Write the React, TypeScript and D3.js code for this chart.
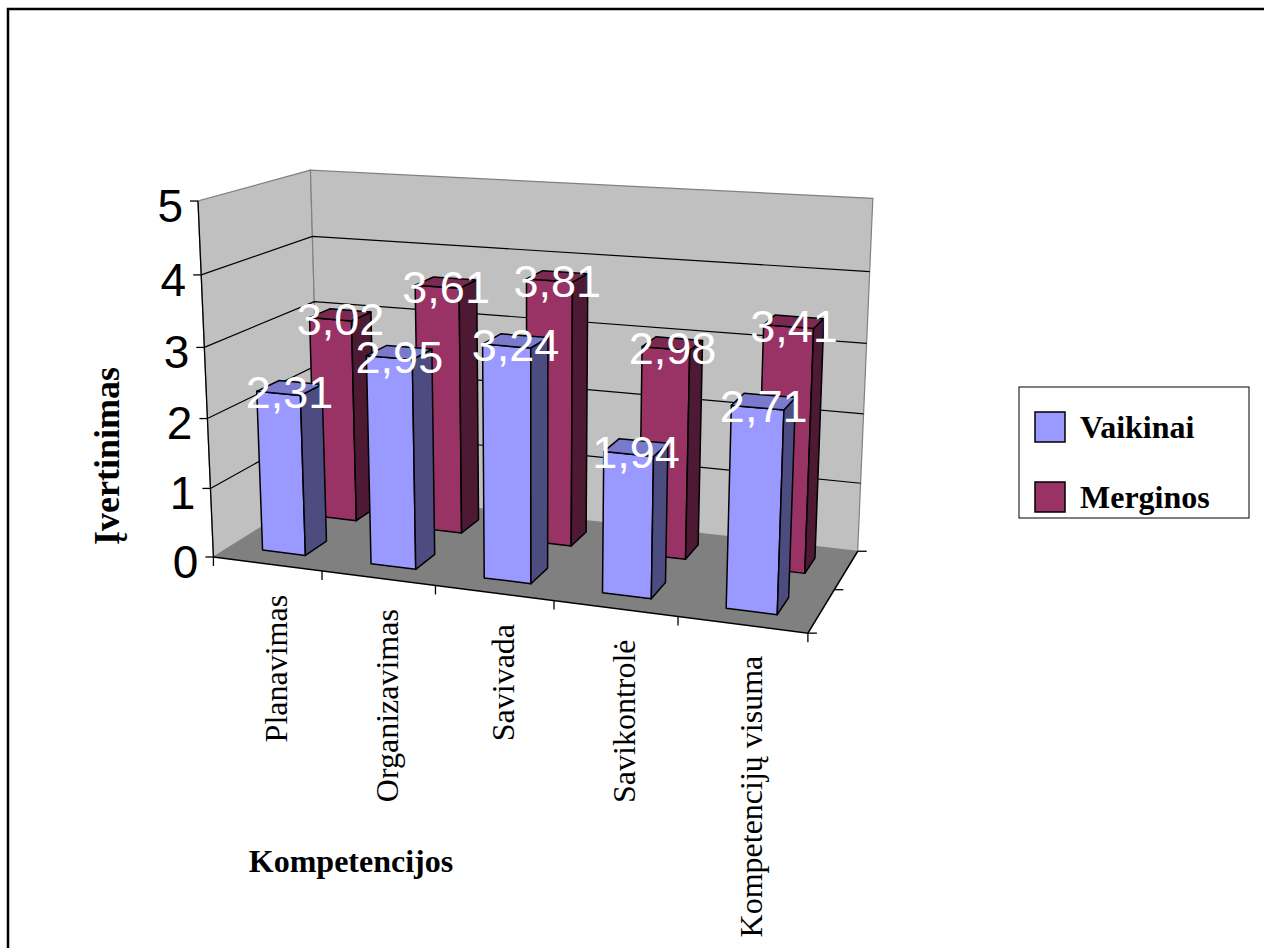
import React from "react";
import * as d3 from "d3";

// Chart data
const categories = ["Planavimas", "Organizavimas", "Savivada", "Savikontrolė", "Kompetencijų visuma"];
const seriesNames = ["Vaikinai", "Merginos"];
const vaikinai = [2.31, 2.95, 3.24, 1.94, 2.71];
const merginos = [3.02, 3.61, 3.81, 2.98, 3.41];
const valueTicks = [0, 1, 2, 3, 4, 5];

const seriesValues: Record<string, number[]> = { Vaikinai: vaikinai, Merginos: merginos };

// Face shading per series: front, side, top
const palette: Record<string, { front: string; side: string; top: string }> = {
  Vaikinai: { front: "#9999FF", side: "#4C4C80", top: "#7A7ACC" },
  Merginos: { front: "#993366", side: "#4D1933", top: "#7A2952" },
};

// 3D box in world units: width along categories, depth along series, height for value 5
const BOX_W = 1;
const BOX_D = 0.395;
const BOX_H = 0.595;

// Camera: rotation around the vertical axis, elevation, distance and focal length
const ROT = (20 * Math.PI) / 180;
const ELEV = (13.9 * Math.PI) / 180;
const DIST = 3.08;
const FOCAL = 1889;
const CENTER: [number, number] = [537, 381];

function project(x: number, y: number, z: number): [number, number] {
  const vx = x - BOX_W / 2;
  const vy = y - BOX_H / 2;
  const vz = z - BOX_D / 2;
  const xh = vx * Math.cos(ROT) + vz * Math.sin(ROT);
  const zh = -vx * Math.sin(ROT) + vz * Math.cos(ROT);
  const yc = vy * Math.cos(ELEV) + zh * Math.sin(ELEV);
  const zc = -vy * Math.sin(ELEV) + zh * Math.cos(ELEV) + DIST;
  return [CENTER[0] + (FOCAL * xh) / zc, CENTER[1] - (FOCAL * yc) / zc];
}

const poly = (pts: [number, number, number][]) =>
  pts.map((p) => project(p[0], p[1], p[2]).map((v) => v.toFixed(2)).join(",")).join(" ");

const ltLocale = d3.formatLocale({ decimal: ",", thousands: " ", grouping: [3], currency: ["", " €"] });
const fmt = ltLocale.format(".2f");

export default function App() {
  const xBand = d3.scaleBand<string>().domain(categories).range([0, BOX_W]).paddingInner(0.6).paddingOuter(0.3);
  const zBand = d3.scaleBand<string>().domain(seriesNames).range([0, BOX_D]).paddingInner(0.6).paddingOuter(0.3);
  const xCat = d3.scaleBand<string>().domain(categories).range([0, BOX_W]);
  const zSer = d3.scaleBand<string>().domain(seriesNames).range([0, BOX_D]);
  const yScale = d3.scaleLinear().domain([0, 5]).range([0, BOX_H]);

  const bw = xBand.bandwidth();
  const bd = zBand.bandwidth();
  const yTop = yScale(5);

  // back row first, left to right, so nearer faces paint over farther ones
  const drawOrder = [...seriesNames].reverse();

  const bars: React.ReactNode[] = [];
  const labels: React.ReactNode[] = [];
  drawOrder.forEach((s) => {
    const col = palette[s];
    seriesValues[s].forEach((v, i) => {
      const c = categories[i];
      const x0 = xBand(c)!;
      const x1 = x0 + bw;
      const z0 = zBand(s)!;
      const z1 = z0 + bd;
      const h = yScale(v);
      bars.push(
        <g key={`${s}-${c}`} stroke="#000" strokeWidth={1.5} strokeLinejoin="round">
          <polygon points={poly([[x0, 0, z0], [x1, 0, z0], [x1, h, z0], [x0, h, z0]])} fill={col.front} />
          <polygon points={poly([[x1, 0, z0], [x1, 0, z1], [x1, h, z1], [x1, h, z0]])} fill={col.side} />
          <polygon points={poly([[x0, h, z0], [x1, h, z0], [x1, h, z1], [x0, h, z1]])} fill={col.top} />
        </g>
      );
      const [lx, ly] = project(x0 + bw / 2, h, z0 + bd / 2);
      labels.push(
        <text key={`lab-${s}-${c}`} x={lx} y={ly} dy="0.45em" textAnchor="middle" fill="#fff"
          fontFamily="'Liberation Sans', Arial, sans-serif" fontSize={45}>
          {fmt(v)}
        </text>
      );
    });
  });

  const vAxisTop = project(0, yTop, 0);
  const vAxisBottom = project(0, 0, 0);

  return (
    <svg width={1264} height={948} style={{ position: "absolute", left: 0, top: 0, background: "#fff" }}>
      {/* outer frame */}
      <rect x={8} y={9} width={1400} height={1100} fill="#fff" stroke="#000" strokeWidth={2.5} />

      {/* walls */}
      <polygon points={poly([[0, 0, 0], [0, yTop, 0], [0, yTop, BOX_D], [0, 0, BOX_D]])}
        fill="#C0C0C0" stroke="#808080" strokeWidth={1.2} />
      <polygon points={poly([[0, 0, BOX_D], [0, yTop, BOX_D], [BOX_W, yTop, BOX_D], [BOX_W, 0, BOX_D]])}
        fill="#C0C0C0" stroke="#808080" strokeWidth={1.2} />

      {/* gridlines on walls */}
      {valueTicks.filter((t) => t > 0 && t < 5).map((t) => (
        <polyline key={`g${t}`} fill="none" stroke="#000" strokeWidth={1.2}
          points={poly([[0, yScale(t), 0], [0, yScale(t), BOX_D], [BOX_W, yScale(t), BOX_D]])} />
      ))}

      {/* floor */}
      <polygon points={poly([[0, 0, 0], [BOX_W, 0, 0], [BOX_W, 0, BOX_D], [0, 0, BOX_D]])} fill="#808080" />

      {/* value axis */}
      <line x1={vAxisTop[0]} y1={vAxisTop[1]} x2={vAxisBottom[0]} y2={vAxisBottom[1]} stroke="#000" strokeWidth={1.3} />
      {valueTicks.map((t) => {
        const [px, py] = project(0, yScale(t), 0);
        return (
          <g key={`vt${t}`}>
            <line x1={px - 8} y1={py} x2={px} y2={py} stroke="#000" strokeWidth={1.3} />
            <text x={px - 15} y={py} dy="0.45em" textAnchor="end" fontFamily="'Liberation Sans', Arial, sans-serif"
              fontSize={46} fill="#000">
              {t}
            </text>
          </g>
        );
      })}

      {/* category axis along the front edge of the floor */}
      <polyline fill="none" stroke="#000" strokeWidth={1.5}
        points={poly([[0, 0, 0], [BOX_W, 0, 0], [BOX_W, 0, BOX_D]])} />
      {d3.range(categories.length + 1).map((i) => {
        const [px, py] = project(i * xCat.step(), 0, 0);
        return <line key={`ct${i}`} x1={px} y1={py} x2={px} y2={py + 9} stroke="#000" strokeWidth={1.3} />;
      })}
      {/* series axis ticks on the right edge */}
      {d3.range(seriesNames.length + 1).map((i) => {
        const [px, py] = project(BOX_W, 0, i * zSer.step());
        return <line key={`st${i}`} x1={px} y1={py} x2={px + 9} y2={py} stroke="#000" strokeWidth={1.3} />;
      })}

      {bars}
      {labels}

      {/* category labels */}
      {categories.map((c) => {
        const [px, py] = project(xCat(c)! + xCat.bandwidth() / 2, 0, 0);
        return (
          <text key={`cl-${c}`} transform={`translate(${px + 9},${py + 31}) rotate(-90)`} dy="0.35em"
            textAnchor="end" fontFamily="'Liberation Serif', 'Times New Roman', serif" fontSize={32} fill="#000">
            {c}
          </text>
        );
      })}

      {/* axis titles */}
      <text x={351} y={872} textAnchor="middle" fontFamily="'Liberation Serif', 'Times New Roman', serif"
        fontWeight="bold" fontSize={32} fill="#000">
        Kompetencijos
      </text>
      <text transform="translate(106,456) rotate(-90)" dy="0.35em" textAnchor="middle"
        fontFamily="'Liberation Serif', 'Times New Roman', serif" fontWeight="bold" fontSize={36} fill="#000">
        Įvertinimas
      </text>

      {/* legend */}
      <g>
        <rect x={1019} y={387} width={230} height={131} fill="#fff" stroke="#000" strokeWidth={1} />
        {seriesNames.map((s, i) => (
          <g key={`lg-${s}`} transform={`translate(1035,${412 + i * 70})`}>
            <rect x={0} y={0} width={30} height={30} fill={palette[s].front} stroke="#000" strokeWidth={1.5} />
            <text x={45} y={15} dy="0.35em" fontFamily="'Liberation Serif', 'Times New Roman', serif"
              fontWeight="bold" fontSize={32} fill="#000">
              {s}
            </text>
          </g>
        ))}
      </g>
    </svg>
  );
}
